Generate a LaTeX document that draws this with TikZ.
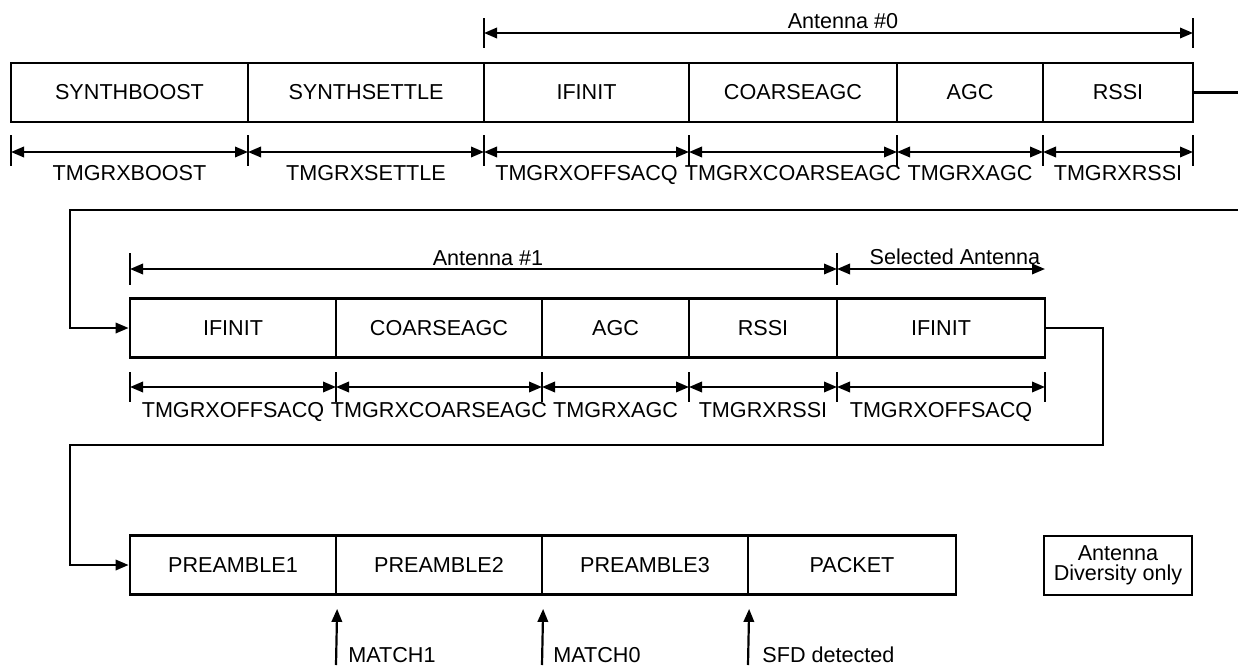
\documentclass[tikz,border=0pt]{standalone}
\usepackage{fontspec}
\setmainfont{Liberation Sans}
\usetikzlibrary{arrows.meta,calc}
\begin{document}
\begin{tikzpicture}[x=0.5pt,y=-0.5pt,
  txt/.style={font=\fontsize{10.8}{12.6}\selectfont},
  cell/.style={txt,draw,line width=1.4pt,inner sep=0pt,minimum height=29.5pt},
  lbl/.style={txt,inner sep=1pt,text height=7.7pt,text depth=0pt},
  dimarrow/.style={line width=1.1pt,{Triangle[length=6.5pt,width=5.2pt]}-{Triangle[length=6.5pt,width=5.2pt]}},
  tickline/.style={line width=1.1pt},
  conn/.style={line width=1.1pt},
  connarrow/.style={line width=1.1pt,-{Triangle[length=6.5pt,width=5.2pt]}}
]
\useasboundingbox (0,0) rectangle (1238,665);

% ---- Row 1 cells
\node[cell,minimum width=118.5pt] (sb) at (129.5,92.5) {SYNTHBOOST};
\node[cell,minimum width=118pt] (ss) at (366,92.5) {SYNTHSETTLE};
\node[cell,minimum width=102.5pt] (ifa) at (586.5,92.5) {IFINIT};
\node[cell,minimum width=104pt] (caa) at (793,92.5) {COARSEAGC};
\node[cell,minimum width=73pt] (agca) at (970,92.5) {AGC};
\node[cell,minimum width=75pt] (rssia) at (1118,92.5) {RSSI};

% ---- Row 2 cells
\node[cell,minimum width=103pt] (ifb) at (233,328) {IFINIT};
\node[cell,minimum width=103pt] (cab) at (439,328) {COARSEAGC};
\node[cell,minimum width=73.5pt] (agcb) at (615.5,328) {AGC};
\node[cell,minimum width=74pt] (rssib) at (763,328) {RSSI};
\node[cell,minimum width=104pt] (ifs) at (941,328) {IFINIT};

% ---- Row 3 cells
\node[cell,minimum width=103pt] (pa) at (233,565) {PREAMBLE1};
\node[cell,minimum width=103pt] (pb) at (439,565) {PREAMBLE2};
\node[cell,minimum width=103pt] (pc) at (645,565) {PREAMBLE3};
\node[cell,minimum width=104pt] (pk) at (852,565) {PACKET};
\node[cell,minimum width=74pt,align=center,font=\fontsize{10.8}{10}\selectfont] (ad) at (1118,565.5) {Antenna\\Diversity only};

% ---- Antenna #0 span
\coordinate (aa) at (484,33);
\coordinate (ab) at (1193,33);
\foreach \c in {aa,ab} \draw[tickline] ($(\c)+(0,-15)$) -- ($(\c)+(0,15)$);
\draw[dimarrow] (aa) -- (ab);
\node[lbl] (antzero) at (843,21) {Antenna \#0};

% ---- Row 1 dimensions
\foreach \n/\x in {ra/11, rb/248, rc/484, rd/689, re/897, rf/1043, rg/1193}
  \coordinate (\n) at (\x,152);
\foreach \c in {ra,rb,rc,rd,re,rf,rg} \draw[tickline] ($(\c)+(0,-17)$) -- ($(\c)+(0,14)$);
\draw[dimarrow] (ra) -- (rb);
\draw[dimarrow] (rb) -- (rc);
\draw[dimarrow] (rc) -- (rd);
\draw[dimarrow] (rd) -- (re);
\draw[dimarrow] (re) -- (rf);
\draw[dimarrow] (rf) -- (rg);
\node[lbl] (la) at ($(ra)!0.5!(rb)+(0,21)$) {TMGRXBOOST};
\node[lbl] (lb) at ($(rb)!0.5!(rc)+(0,21)$) {TMGRXSETTLE};
\node[lbl] (lc) at ($(rc)!0.5!(rd)+(0,21)$) {TMGRXOFFSACQ};
\node[lbl] (ld) at ($(rd)!0.5!(re)+(0,21)$) {TMGRXCOARSEAGC};
\node[lbl] (le) at ($(re)!0.5!(rf)+(0,21)$) {TMGRXAGC};
\node[lbl] (lf) at ($(rf)!0.5!(rg)+(0,21)$) {TMGRXRSSI};

% ---- Antenna #1 / Selected antenna spans
\coordinate (ba) at (130,269);
\coordinate (bb) at (837,269);
\coordinate (bc) at (1045,269);
\foreach \c in {ba,bb} \draw[tickline] ($(\c)+(0,-16)$) -- ($(\c)+(0,16)$);
\draw[dimarrow] (ba) -- (bb);
\draw[dimarrow] (bb) -- (bc);
\node[lbl] (antone) at (488,258) {Antenna \#1};
\node[lbl] (selant) at (955,257) {Selected Antenna};

% ---- Row 2 dimensions
\foreach \n/\x in {sa/130, sb2/336, sc/542, sd/689, se/837, sf/1045}
  \coordinate (\n) at (\x,387);
\foreach \c in {sa,sb2,sc,sd,se,sf} \draw[tickline] ($(\c)+(0,-15)$) -- ($(\c)+(0,15)$);
\draw[dimarrow] (sa) -- (sb2);
\draw[dimarrow] (sb2) -- (sc);
\draw[dimarrow] (sc) -- (sd);
\draw[dimarrow] (sd) -- (se);
\draw[dimarrow] (se) -- (sf);
\node[lbl] (ma2) at ($(sa)!0.5!(sb2)+(0,23)$) {TMGRXOFFSACQ};
\node[lbl] (mb2) at ($(sb2)!0.5!(sc)+(0,23)$) {TMGRXCOARSEAGC};
\node[lbl] (mc2) at ($(sc)!0.5!(sd)+(0,23)$) {TMGRXAGC};
\node[lbl] (md2) at ($(sd)!0.5!(se)+(0,23)$) {TMGRXRSSI};
\node[lbl] (me2) at ($(se)!0.5!(sf)+(0,23)$) {TMGRXOFFSACQ};

% ---- Connectors between rows
\coordinate (ea) at (1238,92.5);
\draw[conn] (rssia.east) -- (ea);
\coordinate (eb) at (1238,210);
\draw[connarrow] (eb) -- (70,210) |- (ifb.west);
\draw[connarrow] (ifs.east) -| (1103,445) -- (70,445) |- (pa.west);

% ---- Bottom event arrows
\coordinate (ua) at (336,665);
\coordinate (ub) at (542,665);
\coordinate (uc) at (748,665);
\draw[connarrow,shorten >=6.5pt] (ua) -- (pa.south east);
\draw[connarrow,shorten >=6.5pt] (ub) -- (pb.south east);
\draw[connarrow,shorten >=6.5pt] (uc) -- (pc.south east);
\node[lbl,anchor=west] (mt1) at (346,655) {MATCH1};
\node[lbl,anchor=west] (mt0) at (551,655) {MATCH0};
\node[lbl,anchor=west] (sfd) at (760,655) {SFD detected};
\end{tikzpicture}
\end{document}
